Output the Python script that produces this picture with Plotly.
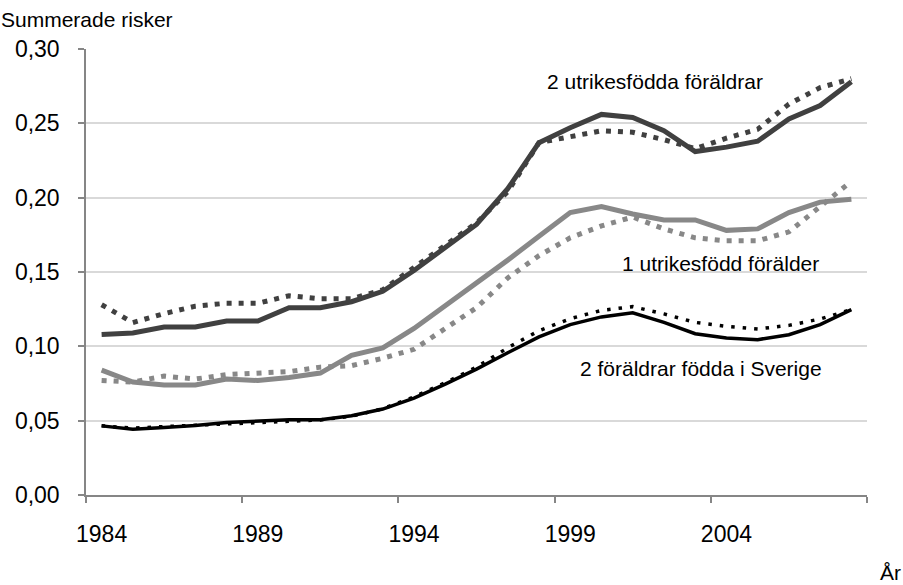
import plotly.graph_objects as go

years = list(range(1984, 2009))

# Two foreign-born parents
two_foreign_solid = [0.108, 0.109, 0.113, 0.113, 0.117, 0.117, 0.126, 0.126, 0.130, 0.137,
                     0.151, 0.166, 0.182, 0.206, 0.237, 0.247, 0.256, 0.254, 0.245, 0.231,
                     0.234, 0.238, 0.253, 0.262, 0.278]
two_foreign_dotted = [0.128, 0.116, 0.122, 0.127, 0.129, 0.129, 0.134, 0.132, 0.132, 0.138,
                      0.153, 0.168, 0.183, 0.204, 0.237, 0.241, 0.245, 0.244, 0.239, 0.233,
                      0.240, 0.246, 0.263, 0.274, 0.280]

# One foreign-born parent
one_foreign_solid = [0.084, 0.076, 0.074, 0.074, 0.078, 0.077, 0.079, 0.082, 0.094, 0.099,
                     0.112, 0.127, 0.142, 0.158, 0.174, 0.190, 0.194, 0.189, 0.185, 0.185,
                     0.178, 0.179, 0.190, 0.197, 0.199]
one_foreign_dotted = [0.077, 0.076, 0.080, 0.078, 0.081, 0.082, 0.083, 0.086, 0.087, 0.092,
                      0.098, 0.112, 0.126, 0.146, 0.161, 0.173, 0.181, 0.187, 0.179, 0.173,
                      0.171, 0.171, 0.177, 0.194, 0.211]

# Both parents born in Sweden
swedish_solid = [0.0465, 0.0443, 0.0454, 0.0467, 0.0487, 0.0494, 0.0506, 0.0506, 0.0533, 0.0578,
                 0.0652, 0.0746, 0.0847, 0.0957, 0.1063, 0.1146, 0.1198, 0.1225, 0.1161, 0.1085,
                 0.1056, 0.1045, 0.1078, 0.1146, 0.1247]
swedish_dotted = [0.0465, 0.0450, 0.0460, 0.0470, 0.0480, 0.0485, 0.0500, 0.0505, 0.0530, 0.0580,
                  0.0660, 0.0755, 0.0860, 0.0990, 0.1105, 0.1186, 0.1242, 0.1267, 0.1218, 0.1161,
                  0.1134, 0.1117, 0.1141, 0.1184, 0.1247]

y_ticks = [0.0, 0.05, 0.10, 0.15, 0.20, 0.25, 0.30]
y_tick_text = ["0,00", "0,05", "0,10", "0,15", "0,20", "0,25", "0,30"]
x_tick_years = [1984, 1989, 1994, 1999, 2004]

labels = [
    ("2 utrikesfödda föräldrar", 2001.7, 0.2780),
    ("1 utrikesfödd förälder", 2003.8, 0.1560),
    ("2 föräldrar födda i Sverige", 2003.2, 0.0850),
]

DARK = "#404040"
GRAY = "#888888"
BLACK = "#000000"
FONT = "Liberation Sans, Arial, sans-serif"

fig = go.Figure()

series = [
    (two_foreign_dotted, DARK, 5, "5px,7px"),
    (two_foreign_solid, DARK, 5, "solid"),
    (one_foreign_dotted, GRAY, 5, "5px,7px"),
    (one_foreign_solid, GRAY, 5, "solid"),
    (swedish_dotted, BLACK, 3.5, "3.5px,8px"),
    (swedish_solid, BLACK, 3.5, "solid"),
]
for vals, color, width, dash in series:
    fig.add_trace(go.Scatter(
        x=years, y=vals, mode="lines",
        line=dict(color=color, width=width, dash=dash),
        showlegend=False, hoverinfo="skip",
    ))

for text, xv, yv in labels:
    fig.add_annotation(x=xv, y=yv, text=text, showarrow=False,
                       xref="x", yref="y",
                       font=dict(family=FONT, size=21, color="#000000"))

fig.add_annotation(text="Summerade risker", xref="paper", yref="paper",
                   x=-0.112, y=1.0, xanchor="left", yanchor="bottom", yshift=16,
                   showarrow=False, font=dict(family=FONT, size=21, color="#000000"))
fig.add_annotation(text="År", xref="paper", yref="paper",
                   x=1.0, y=0.0, xanchor="left", yanchor="top", xshift=11, yshift=-64,
                   showarrow=False, font=dict(family=FONT, size=21, color="#000000"))

fig.update_layout(
    width=903, height=585,
    margin=dict(l=86, r=36, t=49, b=90),
    paper_bgcolor="white", plot_bgcolor="white",
    font=dict(family=FONT, color="#000000"),
    xaxis=dict(
        range=[1983.5, 2008.5],
        tickmode="array", tickvals=x_tick_years,
        ticktext=[str(y) for y in x_tick_years],
        ticks="", showgrid=False, zeroline=False,
        showline=True, linecolor="#868686", linewidth=1.5,
        tickfont=dict(size=23),
        ticklabelstandoff=18,
        minor=dict(tickmode="array",
                   tickvals=[1983.5, 1988.5, 1993.5, 1998.5, 2003.5, 2008.5],
                   ticks="outside", ticklen=6, tickwidth=1.5, tickcolor="#868686",
                   showgrid=False),
    ),
    yaxis=dict(
        range=[0, 0.30],
        tickmode="array", tickvals=y_ticks, ticktext=y_tick_text,
        ticks="outside", ticklen=6, tickwidth=1.5, tickcolor="#868686",
        showgrid=True, gridcolor="#d9d9d9", gridwidth=1.5,
        zeroline=False,
        showline=True, linecolor="#868686", linewidth=1.5,
        tickfont=dict(size=23),
        ticklabelstandoff=14,
    ),
)

fig.write_html("out.html")
